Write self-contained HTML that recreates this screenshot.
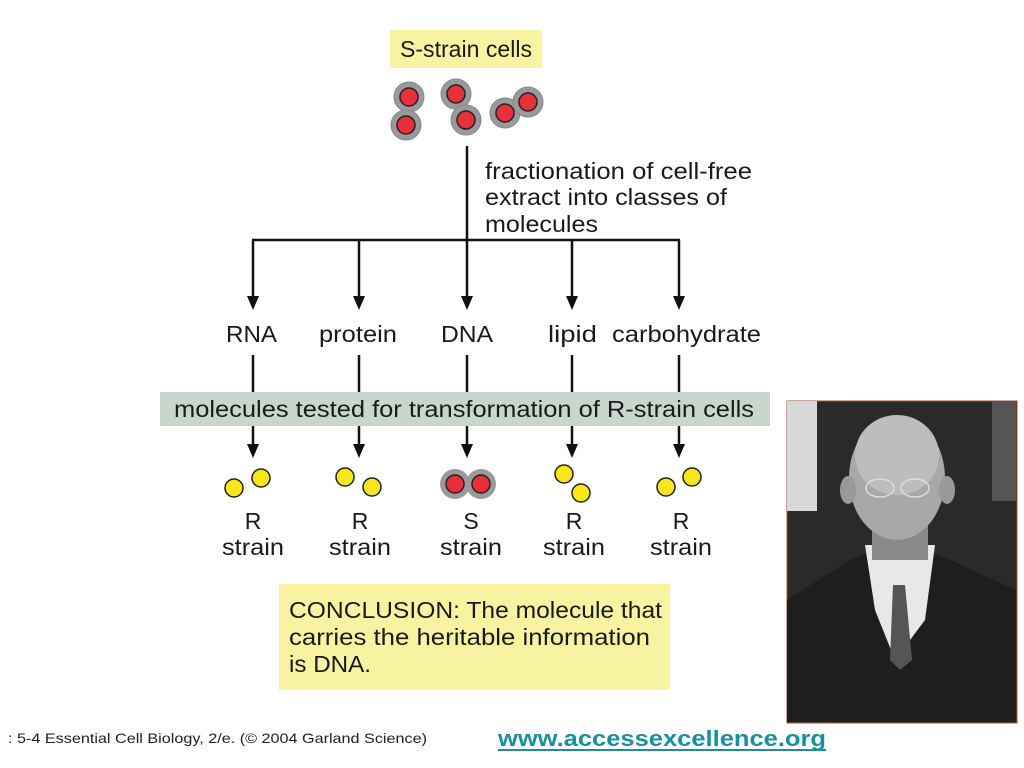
<!DOCTYPE html>
<html><head><style>body{margin:0;background:#fff}svg{display:block}</style></head><body>
<svg width="1024" height="768" xmlns="http://www.w3.org/2000/svg" font-family="Liberation Sans, sans-serif">
<rect width="1024" height="768" fill="#fff"/>
<rect x="390" y="30" width="152" height="38" fill="#f8f3a0"/>
<text x="400" y="57" font-size="23" textLength="132" lengthAdjust="spacingAndGlyphs" fill="#1a1a1a">S-strain cells</text>
<g stroke="#888" stroke-width="1">
<circle cx="409" cy="97" r="15" fill="#9a9a9a"/><circle cx="406" cy="125" r="15" fill="#9a9a9a"/>
<circle cx="456" cy="94" r="15" fill="#9a9a9a"/><circle cx="466" cy="120" r="15" fill="#9a9a9a"/>
<circle cx="505" cy="113" r="15" fill="#9a9a9a"/><circle cx="528" cy="102" r="15" fill="#9a9a9a"/>
</g>
<g fill="#e8303a" stroke="#222" stroke-width="1.5">
<circle cx="409" cy="97" r="9"/><circle cx="406" cy="125" r="9"/><circle cx="456" cy="94" r="9"/><circle cx="466" cy="120" r="9"/><circle cx="505" cy="113" r="9"/><circle cx="528" cy="102" r="9"/>
</g>
<g font-size="23" fill="#1a1a1a" lengthAdjust="spacingAndGlyphs">
<text x="485" y="179" textLength="267" lengthAdjust="spacingAndGlyphs">fractionation of cell-free</text>
<text x="485" y="205" textLength="242" lengthAdjust="spacingAndGlyphs">extract into classes of</text>
<text x="485" y="232" textLength="113" lengthAdjust="spacingAndGlyphs">molecules</text>
</g>
<g stroke="#111" stroke-width="2.5" fill="none">
<line x1="467" y1="146" x2="467" y2="240"/>
<line x1="252" y1="240" x2="680" y2="240"/>
<line x1="253" y1="240" x2="253" y2="298"/><line x1="359" y1="240" x2="359" y2="298"/><line x1="467" y1="240" x2="467" y2="298"/><line x1="572" y1="240" x2="572" y2="298"/><line x1="679" y1="240" x2="679" y2="298"/>
<line x1="253" y1="355" x2="253" y2="392"/><line x1="359" y1="355" x2="359" y2="392"/><line x1="467" y1="355" x2="467" y2="392"/><line x1="572" y1="355" x2="572" y2="392"/><line x1="679" y1="355" x2="679" y2="392"/>
<line x1="253" y1="426" x2="253" y2="446"/><line x1="359" y1="426" x2="359" y2="446"/><line x1="467" y1="426" x2="467" y2="446"/><line x1="572" y1="426" x2="572" y2="446"/><line x1="679" y1="426" x2="679" y2="446"/>
</g>
<g fill="#111">
<polygon points="247,296 259,296 253,310"/><polygon points="353,296 365,296 359,310"/><polygon points="461,296 473,296 467,310"/><polygon points="566,296 578,296 572,310"/><polygon points="673,296 685,296 679,310"/>
<polygon points="247,444 259,444 253,458"/><polygon points="353,444 365,444 359,458"/><polygon points="461,444 473,444 467,458"/><polygon points="566,444 578,444 572,458"/><polygon points="673,444 685,444 679,458"/>
</g>
<g font-size="23" fill="#1a1a1a">
<text x="226" y="342" textLength="51" lengthAdjust="spacingAndGlyphs">RNA</text>
<text x="319" y="342" textLength="78" lengthAdjust="spacingAndGlyphs">protein</text>
<text x="441" y="342" textLength="52" lengthAdjust="spacingAndGlyphs">DNA</text>
<text x="548" y="342" textLength="49" lengthAdjust="spacingAndGlyphs">lipid</text>
<text x="612" y="342" textLength="149" lengthAdjust="spacingAndGlyphs">carbohydrate</text>
</g>
<rect x="160" y="392" width="610" height="34" fill="#c8d6cd"/>
<text x="174" y="417" font-size="23" textLength="580" lengthAdjust="spacingAndGlyphs" fill="#1a1a1a">molecules tested for transformation of R-strain cells</text>
<g fill="#f6e61a" stroke="#222" stroke-width="1.5">
<circle cx="234" cy="488" r="9"/><circle cx="261" cy="478" r="9"/>
<circle cx="345" cy="477" r="9"/><circle cx="372" cy="487" r="9"/>
<circle cx="564" cy="474" r="9"/><circle cx="581" cy="493" r="9"/>
<circle cx="666" cy="487" r="9"/><circle cx="692" cy="477" r="9"/>
</g>
<circle cx="455" cy="484" r="15" fill="#9a9a9a"/><circle cx="481" cy="484" r="15" fill="#9a9a9a"/>
<g fill="#e8303a" stroke="#222" stroke-width="1.5"><circle cx="455" cy="484" r="9"/><circle cx="481" cy="484" r="9"/></g>
<g font-size="23" fill="#1a1a1a" text-anchor="middle">
<text x="253" y="529">R</text><text x="253" y="555" textLength="62" lengthAdjust="spacingAndGlyphs">strain</text>
<text x="360" y="529">R</text><text x="360" y="555" textLength="62" lengthAdjust="spacingAndGlyphs">strain</text>
<text x="471" y="529">S</text><text x="471" y="555" textLength="62" lengthAdjust="spacingAndGlyphs">strain</text>
<text x="574" y="529">R</text><text x="574" y="555" textLength="62" lengthAdjust="spacingAndGlyphs">strain</text>
<text x="681" y="529">R</text><text x="681" y="555" textLength="62" lengthAdjust="spacingAndGlyphs">strain</text>
</g>
<rect x="279" y="584" width="391" height="106" fill="#f8f3a0"/>
<g font-size="23" fill="#1a1a1a">
<text x="289" y="618" textLength="373" lengthAdjust="spacingAndGlyphs">CONCLUSION: The molecule that</text>
<text x="289" y="645" textLength="361" lengthAdjust="spacingAndGlyphs">carries the heritable information</text>
<text x="289" y="672" textLength="82" lengthAdjust="spacingAndGlyphs">is DNA.</text>
</g>
<text x="8" y="743" font-size="14" fill="#222" textLength="419" lengthAdjust="spacingAndGlyphs">: 5-4  Essential Cell Biology, 2/e. (© 2004 Garland Science)</text>
<text x="498" y="746" font-size="22" font-weight="bold" fill="#17919e" textLength="328" lengthAdjust="spacingAndGlyphs">www.accessexcellence.org</text>
<line x1="498" y1="750" x2="826" y2="750" stroke="#17919e" stroke-width="2"/>
<!-- photo -->
<rect x="787" y="401" width="230" height="322" fill="#2a2a2a" stroke="#a0522d" stroke-width="1"/>
<rect x="787" y="401" width="30" height="110" fill="#d8d8d8"/>
<rect x="992" y="401" width="24" height="100" fill="#555"/>
<polygon points="787,600 850,560 900,540 950,560 1016,590 1016,722 787,722" fill="#1e1e1e"/>
<polygon points="865,545 935,545 925,620 895,660 875,610" fill="#e8e8e8"/>
<polygon points="893,585 905,585 912,660 900,670 890,660" fill="#555"/>
<rect x="872" y="520" width="56" height="40" fill="#8a8a8a"/>
<ellipse cx="897" cy="478" rx="48" ry="62" fill="#a8a8a8"/>
<ellipse cx="897" cy="455" rx="42" ry="40" fill="#bdbdbd"/>
<ellipse cx="848" cy="490" rx="8" ry="14" fill="#999"/><ellipse cx="947" cy="490" rx="8" ry="14" fill="#999"/>
<g fill="none" stroke="#ddd" stroke-width="1.5"><ellipse cx="880" cy="488" rx="14" ry="9"/><ellipse cx="915" cy="488" rx="14" ry="9"/></g>
</svg>
</body></html>
